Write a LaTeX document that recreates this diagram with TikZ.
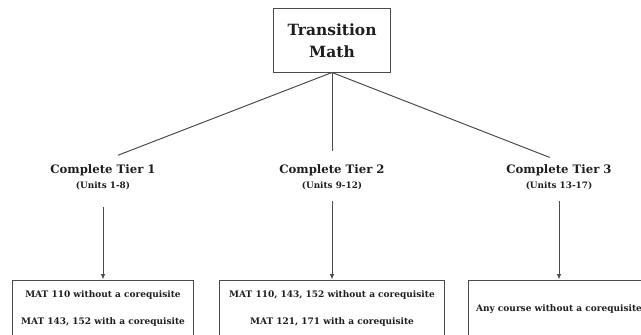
\documentclass[tikz,border=0pt]{standalone}
\usepackage{fontspec}
\setmainfont{DejaVu Serif}
\usetikzlibrary{arrows.meta}

\definecolor{linegray}{HTML}{4A4A4A}
\definecolor{inkdark}{HTML}{1E1E1E}

\begin{document}
\begin{tikzpicture}[x=0.025cm, y=-0.025cm, line width=0.7pt,
    headbox/.style={draw=linegray, text=inkdark, align=center, inner sep=0pt,
      minimum width=2.9cm, minimum height=1.575cm,
      font=\fontsize{11}{15.6}\selectfont\bfseries},
    tierlabel/.style={text=inkdark, align=center, inner sep=2pt,
      font=\fontsize{8.3}{10.7}\selectfont\bfseries},
    coursebox/.style={draw=linegray, text=inkdark, align=center, inner sep=0pt,
      minimum height=1.45cm, font=\fontsize{6.4}{19.2}\selectfont\bfseries},
    branch/.style={draw=linegray},
    feed/.style={draw=linegray, -{Latex[length=3.8pt,width=3.2pt]}}]
    \useasboundingbox (0,0) rectangle (641,335);
    \clip (0,0) rectangle (641,335);

    \node[headbox] (TM) at (332,40.5) {Transition\\Math};

    \node[tierlabel] (T1) at (103,177) {Complete Tier 1\\{\fontsize{6.3}{7.5}\selectfont (Units 1-8)}};
    \node[tierlabel] (T2) at (332,177) {Complete Tier 2\\{\fontsize{6.3}{7.5}\selectfont (Units 9-12)}};
    \node[tierlabel] (T3) at (559,177) {Complete Tier 3\\{\fontsize{6.3}{7.5}\selectfont (Units 13-17)}};

    \node[coursebox, minimum width=4.5cm] (C1) at (103,309)
      {MAT 110 without a corequisite\\MAT 143, 152 with a corequisite};
    \node[coursebox, minimum width=5.625cm] (C2) at (332,309)
      {MAT 110, 143, 152 without a corequisite\\MAT 121, 171 with a corequisite};
    \node[coursebox, minimum width=4.5cm] (C3) at (559,309)
      {Any course without a corequisite};

    \draw[branch, shorten >=0.4cm] (TM.south) -- (T1.north);
    \draw[branch, shorten >=0.25cm] (TM.south) -- (T2.north);
    \draw[branch, shorten >=0.25cm] (TM.south) -- (T3.north);

    \draw[feed, shorten <=0.35cm] (T1.south) -- (C1.north);
    \draw[feed, shorten <=0.2cm] (T2.south) -- (C2.north);
    \draw[feed, shorten <=0.2cm] (T3.south) -- (C3.north);
\end{tikzpicture}
\end{document}
